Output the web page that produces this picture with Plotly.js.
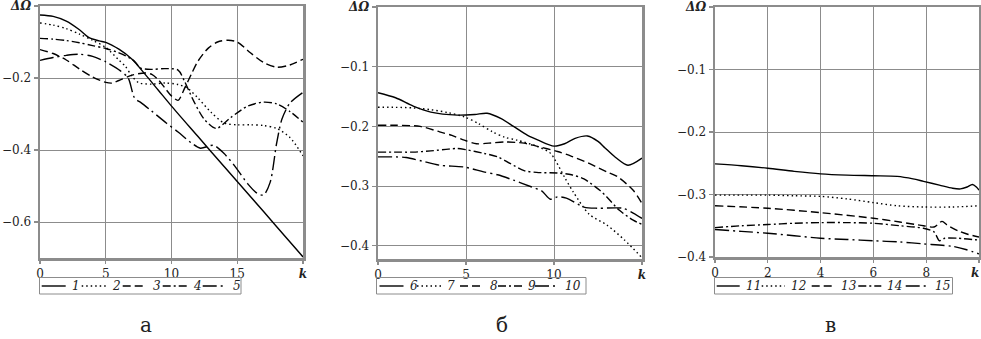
<!DOCTYPE html>
<html><head><meta charset="utf-8">
<script src="https://cdn.plot.ly/plotly-3.0.1.min.js"></script>
<style>html,body{margin:0;padding:0;background:#fff}#chart{width:981px;height:339px}</style>
</head><body><div id="chart"></div>
<script>
// ---- Panel а ----
const kA1 = [0,1,2,3,3.7,4.5,5,6,7,8,9,10,12,14,16,18,20];
const vA1 = [-0.025,-0.029,-0.042,-0.066,-0.087,-0.097,-0.101,-0.12,-0.148,-0.19,-0.234,-0.278,-0.362,-0.446,-0.529,-0.613,-0.697];
const kA2 = [0,1,2,3,4,5,6,6.5,7,7.5,8.5,9.5,10.5,11.2,12,13,14,15,16,17,18,19,20];
const vA2 = [-0.047,-0.053,-0.063,-0.078,-0.095,-0.115,-0.15,-0.168,-0.195,-0.213,-0.217,-0.214,-0.218,-0.228,-0.255,-0.295,-0.325,-0.33,-0.33,-0.332,-0.34,-0.365,-0.416];
const kA3 = [0,1,2,3,4,5,5.5,6,7,8,8.5,9,9.5,10,10.5,11,11.5,12,12.8,13.5,14.3,15,16,17,18,19,20];
const vA3 = [-0.121,-0.132,-0.15,-0.175,-0.197,-0.212,-0.214,-0.207,-0.192,-0.186,-0.19,-0.205,-0.228,-0.25,-0.262,-0.228,-0.19,-0.154,-0.117,-0.1,-0.095,-0.1,-0.13,-0.157,-0.17,-0.164,-0.148];
const kA4 = [0,1,2,3,4,5,6,7,7.3,7.6,8.5,9.5,10.5,11,11.7,12.5,13.4,14.5,15.8,17,18,19,20];
const vA4 = [-0.09,-0.092,-0.096,-0.102,-0.11,-0.118,-0.13,-0.148,-0.158,-0.172,-0.176,-0.174,-0.178,-0.21,-0.265,-0.315,-0.34,-0.31,-0.278,-0.267,-0.272,-0.293,-0.323];
const kA5 = [0,1,2,3,4,5,6,6.7,7.2,7.7,8.5,9.6,10.5,11.5,12.2,13.2,14,14.8,15.8,16.5,17,17.5,18,18.4,19,20];
const vA5 = [-0.151,-0.143,-0.137,-0.134,-0.14,-0.155,-0.177,-0.2,-0.256,-0.269,-0.292,-0.325,-0.35,-0.38,-0.395,-0.387,-0.41,-0.444,-0.494,-0.52,-0.525,-0.49,-0.38,-0.314,-0.27,-0.24];

// ---- Panel б ----
const kB6 = [0,1,2,3,4.5,5.5,6.2,7,7.7,8.5,9.1,10,10.6,11.2,11.9,12.5,12.9,13.5,14.2,15];
const vB6 = [-0.1435,-0.152,-0.166,-0.176,-0.181,-0.18,-0.178,-0.187,-0.2,-0.215,-0.223,-0.233,-0.229,-0.22,-0.216,-0.225,-0.236,-0.252,-0.265,-0.253];
const kB7 = [0,1,2,3,4,4.9,5.7,6.5,7.2,7.9,9.1,9.8,10.1,10.6,11.1,12,13,14,15];
const vB7 = [-0.168,-0.168,-0.169,-0.172,-0.177,-0.184,-0.195,-0.209,-0.218,-0.223,-0.234,-0.245,-0.258,-0.285,-0.31,-0.347,-0.365,-0.39,-0.42];
const kB8 = [0,1,2.4,3.5,4.2,4.9,5.6,6.3,7.2,8.3,9,10.2,11,12,13,13.6,14.5,15];
const vB8 = [-0.198,-0.198,-0.2,-0.209,-0.215,-0.223,-0.229,-0.228,-0.226,-0.228,-0.233,-0.242,-0.25,-0.262,-0.276,-0.284,-0.307,-0.329];
const kB9 = [0,1,2,3,4,4.5,5,6,6.8,7.5,8.3,9,10.2,11,11.7,12.6,13,13.7,14.5,15];
const vB9 = [-0.243,-0.243,-0.243,-0.241,-0.238,-0.237,-0.239,-0.245,-0.251,-0.262,-0.274,-0.277,-0.278,-0.281,-0.288,-0.307,-0.318,-0.34,-0.357,-0.364];
const kB10 = [0,1,1.6,2.5,3.5,4.9,6,6.8,7.7,8.7,9.3,9.8,10.2,10.7,11.7,12.5,13.9,14.5,15];
const vB10 = [-0.251,-0.251,-0.252,-0.258,-0.265,-0.268,-0.276,-0.281,-0.29,-0.301,-0.308,-0.322,-0.318,-0.32,-0.335,-0.337,-0.337,-0.345,-0.354];

// ---- Panel в ----
const kC11 = [0,1,2,3,4,5,6,6.9,7.5,7.9,8.5,9,9.3,9.55,9.75,9.9,10];
const vC11 = [-0.251,-0.254,-0.258,-0.263,-0.267,-0.269,-0.27,-0.271,-0.275,-0.279,-0.285,-0.29,-0.291,-0.288,-0.284,-0.288,-0.293];
const kC12 = [0,1,2,3,4,5,6,6.9,7.9,9,10];
const vC12 = [-0.301,-0.301,-0.301,-0.302,-0.303,-0.307,-0.313,-0.318,-0.32,-0.32,-0.318];
const kC13 = [0,2,4,6,7,7.9,8.3,8.6,8.8,9.2,9.6,10];
const vC13 = [-0.318,-0.322,-0.329,-0.338,-0.344,-0.35,-0.352,-0.343,-0.349,-0.358,-0.364,-0.368];
const kC14 = [0,1,2,3,4,5,6,7,7.9,8.3,8.5,8.7,9.2,10];
const vC14 = [-0.353,-0.35,-0.348,-0.346,-0.345,-0.345,-0.346,-0.35,-0.354,-0.36,-0.374,-0.37,-0.37,-0.373];
const kC15 = [0,1,2,3,4,5,6,7,7.9,9,9.5,10];
const vC15 = [-0.356,-0.359,-0.362,-0.366,-0.37,-0.372,-0.374,-0.376,-0.379,-0.383,-0.388,-0.395];

// tick labels and names
const xTickValsA = [0,5,10,15,20];
const xTickTextA = ['0','5','10','15','<b><i>k</i></b>'];
const xTickValsB = [0,5,10,15];
const xTickTextB = ['0','5','10','<b><i>k</i></b>'];
const xTickValsC = [0,2,4,6,8,10];
const xTickTextC = ['0','2','4','6','8','<b><i>k</i></b>\u00a0\u00a0'];
const yTickValsA = [-0.6,-0.4,-0.2,0];
const yTickTextA = ['−0.6','−0.4','−0.2','<b><i>ΔΩ</i></b>'];
const yTickValsBC = [-0.4,-0.3,-0.2,-0.1,0];
const yTickTextBC = ['−0.4','−0.3','−0.2','−0.1','<b><i>ΔΩ</i></b>'];
const seriesNames = ['1','2','3','4','5','6','7','8','9','10','11','12','13','14','15'];
const captions = ['а','б','в'];

// ---- styles / positions (pixels) ----
const W = 981, H = 339;
const FONT = 'DejaVu Serif';
const GRAY = '#8c8c8c';
const dashes = ['solid','1.5px,3px','8px,4px','8px,3px,2px,3px','14px,4px,2px,4px'];
const legendBoxes = [
  {x0: 39.5, x1: 241, starts: [41.7, 81.7, 122.7, 162.7, 202.7], len: 24},
  {x0: 376.5, x1: 586, starts: [379.5, 417, 460, 498, 535], len: 24},
  {x0: 714.5, x1: 952.5, starts: [716.7, 761.7, 811.7, 858.3, 905.7], len: 23}
];
const legendY0 = 277.5, legendY1 = 294, legendLineY = 286;

const groups = [
  {xa:'x', ya:'y', ks:[kA1,kA2,kA3,kA4,kA5], vs:[vA1,vA2,vA3,vA4,vA5]},
  {xa:'x2', ya:'y2', ks:[kB6,kB7,kB8,kB9,kB10], vs:[vB6,vB7,vB8,vB9,vB10]},
  {xa:'x3', ya:'y3', ks:[kC11,kC12,kC13,kC14,kC15], vs:[vC11,vC12,vC13,vC14,vC15]}
];
const traces = [];
const shapes = [];
const annotations = [];
const px = x => x / W, py = y => 1 - y / H;

groups.forEach((g, gi) => {
  const lb = legendBoxes[gi];
  shapes.push({type: 'rect', xref: 'paper', yref: 'paper', x0: px(lb.x0), x1: px(lb.x1),
    y0: py(legendY1), y1: py(legendY0), line: {color: GRAY, width: 1}, fillcolor: 'rgba(0,0,0,0)'});
  g.ks.forEach((k, i) => {
    const name = seriesNames[gi*5+i];
    traces.push({
      x: k, y: g.vs[i], xaxis: g.xa, yaxis: g.ya,
      type: 'scatter', mode: 'lines', name: name, showlegend: false,
      line: {color: '#000', width: 1.4, dash: dashes[i], shape: 'spline', smoothing: 0.8},
      hoverinfo: 'skip'
    });
    const s = lb.starts[i];
    shapes.push({type: 'line', xref: 'paper', yref: 'paper', x0: px(s), x1: px(s + lb.len),
      y0: py(legendLineY), y1: py(legendLineY), line: {color: '#000', width: 1.4, dash: dashes[i]}});
    annotations.push({text: '<i>' + name + '</i>', xref: 'paper', yref: 'paper',
      x: px(s + lb.len + 4), y: py(legendLineY), xanchor: 'left', yanchor: 'middle',
      showarrow: false, font: {family: FONT, size: 12, color: '#222'}});
  });
});

const captionX = [146, 502, 830];
captions.forEach((c, i) => annotations.push({text: c, x: px(captionX[i]), y: py(325), xref: 'paper', yref: 'paper',
  xanchor: 'center', yanchor: 'middle', showarrow: false, font: {family: FONT, size: 20, color: '#222'}}));

function ax(domain, range, tv, tt, anchor, tl) {
  return {domain: domain, range: range, tickvals: tv, ticktext: tt, showgrid: true,
    gridcolor: GRAY, gridwidth: 1, zeroline: false, showline: true, mirror: true,
    linecolor: GRAY, linewidth: 2.5, ticks: 'outside', ticklen: tl, tickcolor: GRAY, tickwidth: 1.2,
    tickfont: {family: FONT, size: 12, color: '#222'}, fixedrange: true, anchor: anchor,
    automargin: false, ticklabeloverflow: 'allow'};
}

const layout = {
  width: W, height: H,
  margin: {l: 0, r: 0, t: 0, b: 0, autoexpand: false},
  paper_bgcolor: '#fff', plot_bgcolor: '#fff',
  showlegend: false,
  xaxis: ax([px(40), px(303)], [0, 20], xTickValsA, xTickTextA, 'y', 3),
  yaxis: ax([py(258), py(6)], [-0.7, 0], yTickValsA, yTickTextA, 'x', 4),
  xaxis2: ax([px(378), px(642)], [0, 15], xTickValsB, xTickTextB, 'y2', 3),
  yaxis2: ax([py(259), py(7)], [-0.422, 0], yTickValsBC, yTickTextBC, 'x2', 4),
  xaxis3: ax([px(715), px(979)], [0, 10], xTickValsC, xTickTextC, 'y3', 3),
  yaxis3: ax([py(257), py(7)], [-0.4, 0], yTickValsBC, yTickTextBC, 'x3', 4),
  shapes: shapes,
  annotations: annotations
};

Plotly.newPlot('chart', traces, layout, {staticPlot: true, displayModeBar: false});
</script>
</body></html>
